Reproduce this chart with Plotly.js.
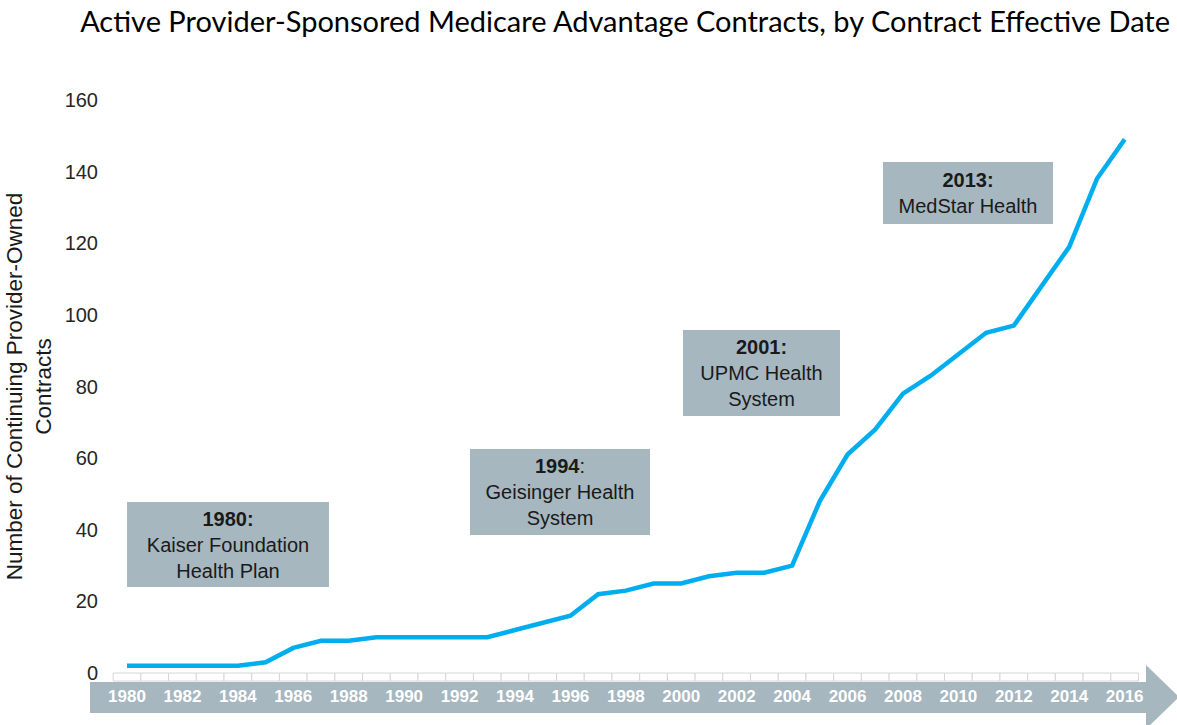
<!DOCTYPE html>
<html>
<head>
<meta charset="utf-8">
<script src="https://cdn.plot.ly/plotly-3.0.1.min.js"></script>
<style>html,body{margin:0;padding:0;background:#fff;}#chart{width:1177px;height:725px;}</style>
</head>
<body>
<div id="chart"></div>
<script>
// ---- data ----
var years = [1980,1981,1982,1983,1984,1985,1986,1987,1988,1989,1990,1991,1992,1993,1994,1995,1996,1997,1998,1999,2000,2001,2002,2003,2004,2005,2006,2007,2008,2009,2010,2011,2012,2013,2014,2015,2016];
var contracts = [2,2,2,2,2,3,7,9,9,10,10,10,10,10,12,14,16,22,23,25,25,27,28,28,30,48,61,68,78,83,89,95,97,108,119,138,149];
var xTickYears = [1980,1982,1984,1986,1988,1990,1992,1994,1996,1998,2000,2002,2004,2006,2008,2010,2012,2014,2016];
var yTickVals = [0,20,40,60,80,100,120,140,160];
var milestoneYears = ['1980','1994','2001','2013'];
var milestoneNames = [['Kaiser Foundation','Health Plan'],['Geisinger Health','System'],['UPMC Health','System'],['MedStar Health']];
var titleText = 'Active Provider-Sponsored Medicare Advantage Contracts, by Contract Effective Date';
var yTitleText = 'Number of Continuing Provider-Owned<br>Contracts';

// ---- geometry helpers (layout) ----
var W = 1177, H = 725, L = 105, R = 30, T = 100, B = 52;
var PW = W - L - R, PH = H - T - B;
function px(x){ return (x - L) / PW; }
function py(y){ return (H - B - y) / PH; }

var sans = 'Arial, Liberation Sans, sans-serif';
var boxColor = '#a6b7c0';
var shapes = [];
// arrow band
shapes.push({type:'path', xref:'paper', yref:'paper', layer:'below',
  path:'M'+px(90)+','+py(682)+' L'+px(1146)+','+py(682)+' L'+px(1146)+','+py(665)+' L'+px(1179)+','+py(697)+' L'+px(1146)+','+py(729)+' L'+px(1146)+','+py(713)+' L'+px(90)+','+py(713)+' Z',
  fillcolor:boxColor, line:{width:0}});
// tick cells
years.forEach(function(yr){
  shapes.push({type:'rect', xref:'x', yref:'paper', x0:yr-0.5, x1:yr+0.5, y0:py(681), y1:py(673),
    fillcolor:'#ffffff', line:{color:'#d6d6d6', width:1}, layer:'below'});
});

// milestone boxes
var boxGeom = [
  {cx:228, cy:544.5, w:202, h:85},
  {cx:560, cy:492, w:180, h:86},
  {cx:761.5, cy:373, w:157, h:86},
  {cx:968, cy:193, w:170, h:62}
];
var annotations = milestoneYears.map(function(yr, i){
  var head = (yr === '1994') ? '<b>'+yr+'</b>:' : '<b>'+yr+':</b>';
  var g = boxGeom[i];
  return {xref:'paper', yref:'paper', x:px(g.cx), y:py(g.cy), xanchor:'center', yanchor:'middle',
    text: head + '<br>' + milestoneNames[i].join('<br>'), showarrow:false,
    width:g.w, height:g.h, bgcolor:boxColor, borderpad:0, borderwidth:0, align:'center', valign:'middle',
    font:{family:sans, size:20, color:'#1a1a1a'}};
});

var trace = {x: years, y: contracts, type:'scatter', mode:'lines',
  line:{color:'#00aeef', width:4.5}, hoverinfo:'skip'};

var layout = {
  width:W, height:H, margin:{l:L, r:R, t:T, b:B}, paper_bgcolor:'#ffffff', plot_bgcolor:'rgba(0,0,0,0)',
  showlegend:false,
  title:{text:titleText, xref:'container', yref:'container', x:1170/W, xanchor:'right', y:1-22/H, yanchor:'middle',
    font:{family:'Lato, Open Sans, sans-serif', size:29, color:'#000000'}},
  xaxis:{range:[1979.206, 1979.206+37.6], tickvals:xTickYears, ticktext:xTickYears.map(String), showgrid:false, zeroline:false,
    showline:false, ticks:'', ticklabelstandoff:11, fixedrange:true,
    tickfont:{family:sans, size:17, color:'#ffffff', weight:'bold'}},
  yaxis:{range:[0,160], tickvals:yTickVals, showgrid:false, zeroline:false, showline:false, ticks:'', fixedrange:true,
    ticklabelstandoff:6,
    tickfont:{family:sans, size:20, color:'#262626'},
    title:{text:yTitleText, standoff:6, font:{family:sans, size:22.5, color:'#1a1a1a'}}},
  shapes:shapes, annotations:annotations
};
Plotly.newPlot('chart', [trace], layout, {displayModeBar:false, staticPlot:true});
</script>
</body>
</html>
